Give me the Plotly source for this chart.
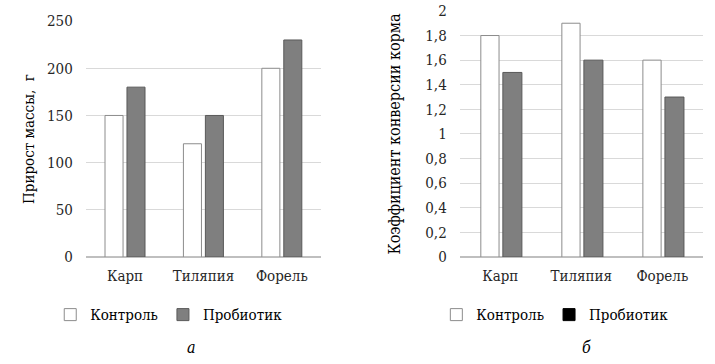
import plotly.graph_objects as go

categories = ["Карп", "Тиляпия", "Форель"]
gain_control = [150, 120, 200]
gain_probiotic = [180, 150, 230]
fcr_control = [1.8, 1.9, 1.6]
fcr_probiotic = [1.5, 1.6, 1.3]
series_names = ["Контроль", "Пробиотик"]
gain_ticks = [0, 50, 100, 150, 200, 250]
fcr_ticks = [0, 0.2, 0.4, 0.6, 0.8, 1.0, 1.2, 1.4, 1.6, 1.8, 2.0]
fcr_ticktext = ["0", "0,2", "0,4", "0,6", "0,8", "1", "1,2", "1,4", "1,6", "1,8", "2"]
left_ytitle = "Прирост массы,  г"
right_ytitle = "Коэффициент конверсии корма"
captions = ["а", "б"]

FONT = "DejaVu Serif Condensed"
FS = 15
WHITE_LINE = "#8c8c8c"
GRAY_FILL = "#7f7f7f"
GRAY_LINE = "#595959"
GRID = "#d9d9d9"

fig = go.Figure()

fig.add_trace(go.Bar(x=categories, y=gain_control, name=series_names[0],
                     marker=dict(color="white", line=dict(color=WHITE_LINE, width=1)),
                     width=0.23, offset=-0.255, xaxis="x", yaxis="y", legend="legend"))
fig.add_trace(go.Bar(x=categories, y=gain_probiotic, name=series_names[1],
                     marker=dict(color=GRAY_FILL, line=dict(color=GRAY_LINE, width=1)),
                     width=0.23, offset=0.025, xaxis="x", yaxis="y", legend="legend"))

fig.add_trace(go.Bar(x=categories, y=fcr_control, name=series_names[0],
                     marker=dict(color="white", line=dict(color=WHITE_LINE, width=1)),
                     width=0.225, offset=-0.24, xaxis="x2", yaxis="y2", legend="legend2"))
fig.add_trace(go.Bar(x=categories, y=fcr_probiotic, name=series_names[1],
                     marker=dict(color=GRAY_FILL, line=dict(color=GRAY_LINE, width=1)),
                     width=0.235, offset=0.032, xaxis="x2", yaxis="y2", legend="legend2",
                     showlegend=False))
fig.add_trace(go.Bar(x=[None], y=[None], name=series_names[1],
                     marker=dict(color="black", line=dict(color="black", width=1)),
                     xaxis="x2", yaxis="y2", legend="legend2"))

tickfont = dict(family=FONT, size=FS, color="#262626")
titlefont = dict(family=FONT, size=FS, color="black")

fig.update_layout(
    template="none",
    width=715, height=364,
    margin=dict(l=0, r=0, t=0, b=0),
    paper_bgcolor="white", plot_bgcolor="white",
    font=dict(family=FONT, size=FS, color="#262626"),
    barmode="overlay",
    xaxis=dict(domain=[0.120, 0.449], anchor="y", tickfont=tickfont, ticks="",
               showline=False, showgrid=False, ticklabelstandoff=8, automargin=False),
    yaxis=dict(domain=[0.294, 0.942], anchor="x", range=[0, 250],
               tickvals=gain_ticks, tickfont=tickfont, showgrid=True, gridcolor=GRID,
               gridwidth=1, zeroline=True, zerolinecolor="#bfbfbf", zerolinewidth=2,
               ticks="", ticklabelstandoff=12, showline=False, automargin=False,
               title=dict(text=left_ytitle, font=titlefont, standoff=8)),
    xaxis2=dict(domain=[0.643, 0.983], anchor="y2", tickfont=tickfont, ticks="",
                showline=False, showgrid=False, ticklabelstandoff=8, automargin=False),
    yaxis2=dict(domain=[0.294, 0.970], anchor="x2", range=[0, 2],
                tickvals=fcr_ticks, ticktext=fcr_ticktext, tickfont=tickfont,
                showgrid=True, gridcolor=GRID, gridwidth=1, zeroline=True,
                zerolinecolor="#bfbfbf", zerolinewidth=2, ticks="", ticklabelstandoff=12,
                showline=False, automargin=False,
                title=dict(text=right_ytitle, font=dict(family=FONT, size=16, color="black"),
                           standoff=20)),
    legend=dict(orientation="h", x=0.236, y=0.135, xanchor="center", yanchor="middle",
                font=dict(family=FONT, size=FS, color="black"), itemwidth=30,
                bgcolor="rgba(0,0,0,0)"),
    legend2=dict(orientation="h", x=0.776, y=0.135, xanchor="center", yanchor="middle",
                 font=dict(family=FONT, size=FS, color="black"), itemwidth=30,
                 bgcolor="rgba(0,0,0,0)"),
    showlegend=True,
)

fig.add_annotation(text="<i>" + captions[0] + "</i>", x=0.259, y=0.015,
                   xref="paper", yref="paper", showarrow=False,
                   font=dict(family=FONT, size=16, color="black"))
fig.add_annotation(text="<i>" + captions[1] + "</i>", x=0.829, y=0.015,
                   xref="paper", yref="paper", showarrow=False,
                   font=dict(family=FONT, size=16, color="black"))

fig.write_html("out.html", config={"displayModeBar": False},
               post_script="document.body.style.margin='0';document.body.style.padding='0';")
